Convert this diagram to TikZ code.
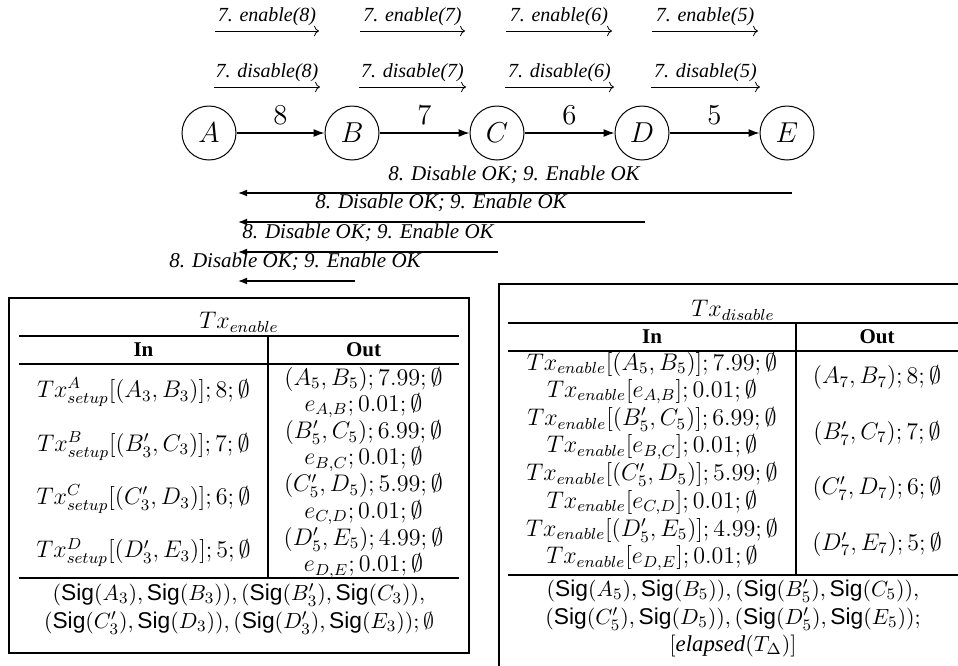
\documentclass[tikz,border=0pt]{standalone}
\usepackage[no-math]{fontspec}
\setmainfont{Liberation Serif}
\setsansfont{Liberation Sans}
\usetikzlibrary{arrows.meta}
\begin{document}
\begin{tikzpicture}[x=0.5pt,y=-0.5pt,
  st/.style={circle,draw,line width=0.5pt,minimum size=27pt,inner sep=0pt,font=\fontsize{14.5}{16}\selectfont},
  elab/.style={font=\fontsize{14.5}{16}\selectfont,inner sep=0pt},
  toplab/.style={font=\fontsize{10}{12}\selectfont\itshape,inner sep=0pt},
  retlab/.style={font=\fontsize{10.5}{12}\selectfont\itshape,inner sep=0pt},
  cmarr/.style={line width=0.4pt,-{Computer Modern Rightarrow}},
  edgearr/.style={line width=0.6pt,-{Latex[length=5.5pt,width=4pt]}},
  retarr/.style={line width=0.6pt,-{Latex[length=4.5pt,width=3.4pt]}},
  cell/.style={font=\fontsize{12}{14}\selectfont,inner sep=0pt},
  sigcell/.style={font=\fontsize{11.4}{13}\selectfont,inner sep=0pt},
  head/.style={font=\fontsize{10.5}{12}\selectfont\bfseries,inner sep=0pt},
  rulel/.style={line width=0.6pt},
]
\useasboundingbox (0,0) rectangle (958,665);
\clip (0,0) rectangle (958,665);

% states
\node[st] (A) at (209,133) {$A$};
\node[st] (B) at (352,133) {$B$};
\node[st] (C) at (497,133) {$C$};
\node[st] (D) at (642,133) {$D$};
\node[st] (E) at (787,133) {$E$};
\draw[edgearr] (A) -- node[elab,yshift=9pt]{$8$} (B);
\draw[edgearr] (B) -- node[elab,yshift=9pt]{$7$} (C);
\draw[edgearr] (C) -- node[elab,yshift=9pt]{$6$} (D);
\draw[edgearr] (D) -- node[elab,yshift=9pt]{$5$} (E);

% enable arrows
\coordinate (e1s) at (215,31);  \coordinate (e1e) at (319,31);
\coordinate (e2s) at (360,31);  \coordinate (e2e) at (465,31);
\coordinate (e3s) at (506,31);  \coordinate (e3e) at (612,31);
\coordinate (e4s) at (652,31);  \coordinate (e4e) at (758,31);
\draw[cmarr] (e1s) -- node[toplab,yshift=7pt] (el1) {7. enable(8)} (e1e);
\draw[cmarr] (e2s) -- node[toplab,yshift=7pt] (el2) {7. enable(7)} (e2e);
\draw[cmarr] (e3s) -- node[toplab,yshift=7pt] (el3) {7. enable(6)} (e3e);
\draw[cmarr] (e4s) -- node[toplab,yshift=7pt] (el4) {7. enable(5)} (e4e);

% disable arrows
\coordinate (d1s) at (214,87);  \coordinate (d1e) at (320,87);
\coordinate (d2s) at (359,87);  \coordinate (d2e) at (466,87);
\coordinate (d3s) at (505,87);  \coordinate (d3e) at (614,87);
\coordinate (d4s) at (651,87);  \coordinate (d4e) at (760,87);
\draw[cmarr] (d1s) -- node[toplab,yshift=7pt] (dl1) {7. disable(8)} (d1e);
\draw[cmarr] (d2s) -- node[toplab,yshift=7pt] (dl2) {7. disable(7)} (d2e);
\draw[cmarr] (d3s) -- node[toplab,yshift=7pt] (dl3) {7. disable(6)} (d3e);
\draw[cmarr] (d4s) -- node[toplab,yshift=7pt] (dl4) {7. disable(5)} (d4e);

% return arrows
\coordinate (r1s) at (792,193); \coordinate (r1e) at (238,193);
\coordinate (r2s) at (645,222); \coordinate (r2e) at (238,222);
\coordinate (r3s) at (498,252); \coordinate (r3e) at (238,252);
\coordinate (r4s) at (355,281); \coordinate (r4e) at (238,281);
\draw[retarr] (r1s) -- (r1e);
\draw[retarr] (r2s) -- (r2e);
\draw[retarr] (r3s) -- (r3e);
\draw[retarr] (r4s) -- (r4e);
\node[retlab] (rl1) at (514,175) {8. Disable OK; 9. Enable OK};
\node[retlab] (rl2) at (441,203) {8. Disable OK; 9. Enable OK};
\node[retlab] (rl3) at (368,233) {8. Disable OK; 9. Enable OK};
\node[retlab] (rl4) at (295,262) {8. Disable OK; 9. Enable OK};

% ---------- left table ----------
\draw[rulel] (9,298) rectangle (469,653);
\node[cell] (lt) at (239,322) {$Tx_{enable}$};
\draw[rulel] (19,336) -- (459,336);
\draw[rulel] (19,364) -- (459,364);
\draw[rulel] (19,578) -- (459,578);
\draw[rulel] (268,336) -- (268,578);
\node[head] (lin) at (143.5,350) {In};
\node[head] (lout) at (363.5,350) {Out};
\node[cell] (li1) at (143.5,392.4) {$Tx^{A}_{setup}[(A_3,B_3)];8;\emptyset$};
\node[cell] (li2) at (143.5,445.8) {$Tx^{B}_{setup}[(B'_3,C_3)];7;\emptyset$};
\node[cell] (li3) at (143.5,499.2) {$Tx^{C}_{setup}[(C'_3,D_3)];6;\emptyset$};
\node[cell] (li4) at (143.5,552.6) {$Tx^{D}_{setup}[(D'_3,E_3)];5;\emptyset$};
\node[cell] (lo1) at (363.5,379) {$(A_5,B_5);7.99;\emptyset$};
\node[cell] (lo2) at (363.5,405.7) {$e_{A,B};0.01;\emptyset$};
\node[cell] (lo3) at (363.5,432.4) {$(B'_5,C_5);6.99;\emptyset$};
\node[cell] (lo4) at (363.5,459.1) {$e_{B,C};0.01;\emptyset$};
\node[cell] (lo5) at (363.5,485.8) {$(C'_5,D_5);5.99;\emptyset$};
\node[cell] (lo6) at (363.5,512.5) {$e_{C,D};0.01;\emptyset$};
\node[cell] (lo7) at (363.5,539.2) {$(D'_5,E_5);4.99;\emptyset$};
\node[cell] (lo8) at (363.5,565.9) {$e_{D,E};0.01;\emptyset$};
\node[sigcell] (ls1) at (239,595) {$(\textsf{Sig}(A_3),\textsf{Sig}(B_3)),(\textsf{Sig}(B'_3),\textsf{Sig}(C_3)),$};
\node[sigcell] (ls2) at (239,623) {$(\textsf{Sig}(C'_3),\textsf{Sig}(D_3)),(\textsf{Sig}(D'_3),\textsf{Sig}(E_3));\emptyset$};

% ---------- right table ----------
\draw[rulel] (962,284) -- (499,284) -- (499,670);
\node[cell] (rt) at (733,310) {$Tx_{disable}$};
\draw[rulel] (508,323) -- (962,323);
\draw[rulel] (508,351) -- (962,351);
\draw[rulel] (508,575) -- (962,575);
\draw[rulel] (796,323) -- (796,575);
\node[head] (rin) at (652,337) {In};
\node[head] (rout) at (877,337) {Out};
\node[cell] (ri1) at (652,364) {$Tx_{enable}[(A_5,B_5)];7.99;\emptyset$};
\node[cell] (ri2) at (652,391.7) {$Tx_{enable}[e_{A,B}];0.01;\emptyset$};
\node[cell] (ri3) at (652,419.4) {$Tx_{enable}[(B'_5,C_5)];6.99;\emptyset$};
\node[cell] (ri4) at (652,447.1) {$Tx_{enable}[e_{B,C}];0.01;\emptyset$};
\node[cell] (ri5) at (652,474.8) {$Tx_{enable}[(C'_5,D_5)];5.99;\emptyset$};
\node[cell] (ri6) at (652,502.5) {$Tx_{enable}[e_{C,D}];0.01;\emptyset$};
\node[cell] (ri7) at (652,530.2) {$Tx_{enable}[(D'_5,E_5)];4.99;\emptyset$};
\node[cell] (ri8) at (652,557.9) {$Tx_{enable}[e_{D,E}];0.01;\emptyset$};
\node[cell] (ro1) at (877,377.8) {$(A_7,B_7);8;\emptyset$};
\node[cell] (ro2) at (877,433.2) {$(B'_7,C_7);7;\emptyset$};
\node[cell] (ro3) at (877,488.6) {$(C'_7,D_7);6;\emptyset$};
\node[cell] (ro4) at (877,544) {$(D'_7,E_7);5;\emptyset$};
\node[sigcell] (rs1) at (733,591) {$(\textsf{Sig}(A_5),\textsf{Sig}(B_5)),(\textsf{Sig}(B'_5),\textsf{Sig}(C_5)),$};
\node[sigcell] (rs2) at (733,619) {$(\textsf{Sig}(C'_5),\textsf{Sig}(D_5)),(\textsf{Sig}(D'_5),\textsf{Sig}(E_5));$};
\node[sigcell] (rs3) at (733,646) {$[\textit{elapsed}(T_\Delta)]$};
\end{tikzpicture}
\end{document}
